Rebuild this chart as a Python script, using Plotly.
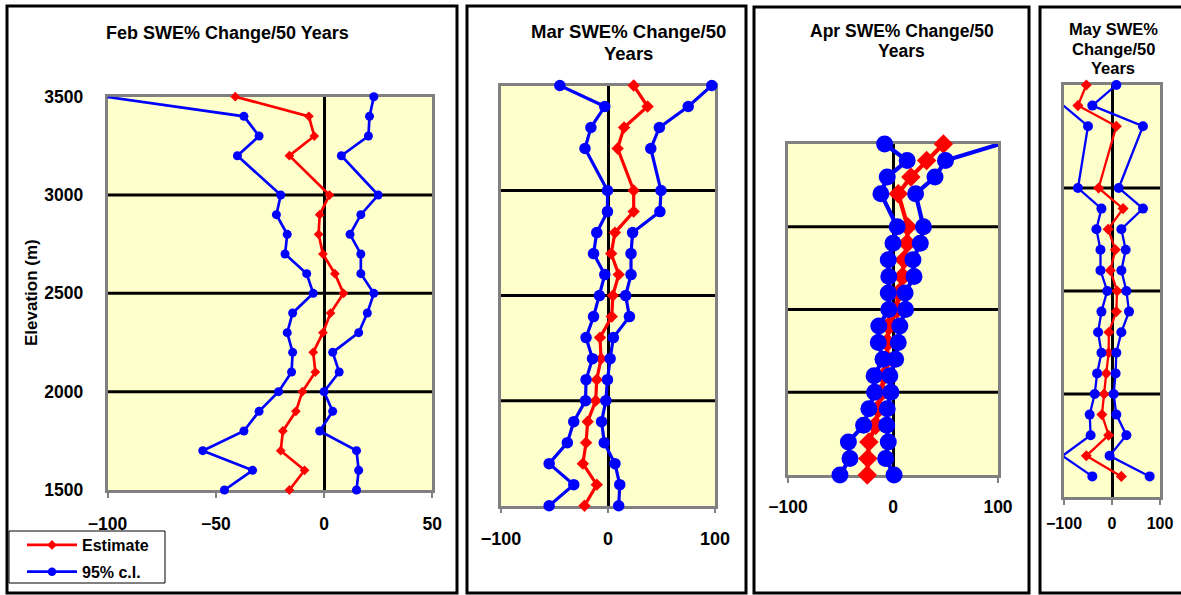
import plotly.graph_objects as go

W, H = 1181, 595

# ---------------- data ----------------
elev = [3500, 3400, 3300, 3200, 3000, 2900, 2800, 2700, 2600, 2500,
        2400, 2300, 2200, 2100, 2000, 1900, 1800, 1700, 1600, 1500]
elev_may = [3500, 3400, 3300, 3000, 2900, 2800, 2700, 2600, 2500,
            2400, 2300, 2200, 2100, 2000, 1900, 1800, 1700, 1600]

feb_est = [-41, -7, -4.5, -16, 2.5, -2, -2.5, -0.5, 5, 9,
           3, -0.5, -5, -4, -10, -13, -19, -20, -9, -16]
feb_lo = [-101, -37, -30, -40, -20, -22, -17, -18, -8, -5,
          -14.5, -17, -14.5, -15, -21, -30, -37, -56, -33, -46]
feb_hi = [23, 21, 20.5, 8, 25, 17, 12, 17, 17, 23,
          20, 16, 4, 7, 0, 4, -2, 15, 16, 15]

mar_est = [24, 37, 15, 9, 24, 24, 6.5, 3, 10, 4.5,
           3.5, -7.5, -6.5, -10.5, -11.5, -19, -20.5, -23.5, -10.5, -22]
mar_lo = [-45, -3, -16, -21.5, -0.5, -0.5, -10.5, -13.5, -3, -8,
          -13.5, -20.5, -14.5, -20.5, -21, -32, -38, -55, -32, -55]
mar_hi = [97, 75, 48, 40, 49.5, 48.5, 23, 21.5, 21.5, 16.5,
          20, 5, 2, -0.5, -2, -6, -3.5, 6.5, 11, 10]

apr_est = [48, 32, 17, 5, 14, 13.5, 10.5, 9, 5.5, 3.5,
           -4, -5.5, -5.5, -8.5, -11, -14, -16.5, -23, -24, -24.5]
apr_lo = [-8, 13.5, -5.5, -11.5, 4, 0, -4.5, -4, -4.5, -4,
          -13.5, -14, -9.5, -18, -17.5, -23, -28, -42.5, -41, -50.5]
apr_hi = [102, 50, 40, 21.5, 29, 26, 19, 20, 11.5, 12,
          6.5, 5, 2.5, -3, -2, -5.5, -6, -4.5, -7, 1]

may_est = [-53.5, -71, 9, -28, 23, -8, 7, -3.5, 10.5,
           9, -6.5, -7, -12, -16.5, -21, -7, -53.5, 19.5]
may_lo = [None, -101, -50, -71, -22, -32.5, -24, -24, -10,
          -22, -29, -22, -31, -36, -46.5, -44.5, -103, -41]
may_hi = [9, -41, 64.5, 14, 64.5, 19.5, 28.5, 19.5, 30,
          35.5, 19.5, 9, 7.5, 3.5, 9, 30, -5, 78.5]

titles = [["Feb SWE% Change/50 Years"],
          ["Mar SWE% Change/50", "Years"],
          ["Apr SWE% Change/50", "Years"],
          ["May SWE%", "Change/50", "Years"]]
y_ticks = [1500, 2000, 2500, 3000, 3500]
grid_vals = [2000, 2500, 3000]
x_ticks_feb = [-100, -50, 0, 50]
x_ticks_other = [-100, 0, 100]

# ---------------- styling / layout ----------------
FONT = "Liberation Sans, Arial, sans-serif"
RED, BLUE = "#FF0000", "#0000FF"
GRAY = "#808080"
BG = "#FFFFCC"

panels = [
    dict(elev=elev, est=feb_est, lo=feb_lo, hi=feb_hi, xr=[-100, 50], xt=x_ticks_feb,
         box=(107.5, 96.7, 432.3, 490), mc=9, md=7.5, lw=2.7, tf=17.5, stand=11,
         title_x=227.5, title_y=[33], title_fs=18),
    dict(elev=elev, est=mar_est, lo=mar_lo, hi=mar_hi, xr=[-100, 100], xt=x_ticks_other,
         box=(501, 85.5, 715, 505.7), mc=11.5, md=9.5, lw=3.2, tf=18, stand=10,
         title_x=628, title_y=[31.7, 53], title_fs=18.5),
    dict(elev=elev, est=apr_est, lo=apr_lo, hi=apr_hi, xr=[-100, 100], xt=x_ticks_other,
         box=(788, 144, 998, 475), mc=17, md=15, lw=4.2, tf=17.5, stand=9,
         title_x=902, title_y=[31.2, 51], title_fs=17.5),
    dict(elev=elev_may, est=may_est, lo=may_lo, hi=may_hi, xr=[-100, 100], xt=x_ticks_other,
         box=(1064, 85, 1160, 497), mc=10, md=8.5, lw=2.3, tf=16, stand=5,
         title_x=1113, title_y=[29.2, 49.2, 68], title_fs=16.5),
]

frames = [(7, 6, 457, 593), (467, 6, 746, 593), (754, 7, 1029, 593), (1040, 7, 1195, 593)]


def sizes(vals, s, rng):
    return [s if (v is not None and rng[0] <= v <= rng[1]) else 0 for v in vals]


fig = go.Figure()
layout = dict(width=W, height=H,
              margin=dict(l=0, r=0, t=0, b=0, pad=0, autoexpand=False),
              paper_bgcolor="white", plot_bgcolor=BG,
              font=dict(family=FONT, color="black"),
              showlegend=True)
shapes = []
annotations = []

for i, p in enumerate(panels, start=1):
    xa = "x" if i == 1 else f"x{i}"
    ya = "y" if i == 1 else f"y{i}"
    x0, y0, x1, y1 = p["box"]
    series = [("est", RED, "diamond", p["md"], "Estimate"),
              ("lo", BLUE, "circle", p["mc"], "95% c.l."),
              ("hi", BLUE, "circle", p["mc"], "95% c.l.")]
    for key, col, sym, ms, name in series:
        fig.add_trace(go.Scatter(
            x=p[key], y=p["elev"], xaxis=xa, yaxis=ya, mode="lines+markers",
            name=name, legendgroup=name,
            showlegend=(i == 1 and key in ("est", "lo")),
            line=dict(color=col, width=p["lw"]),
            marker=dict(symbol=sym, color=col, opacity=1,
                        size=sizes(p[key], ms, p["xr"]),
                        line=dict(width=0, color=col)),
            cliponaxis=False, hoverinfo="skip"))
    axfont = dict(family=FONT, size=p["tf"], color="black", weight="bold")
    layout["xaxis" if i == 1 else f"xaxis{i}"] = dict(
        domain=[x0 / W, x1 / W], anchor=ya, range=p["xr"], tickvals=p["xt"],
        ticks="outside", ticklen=5, tickwidth=1.5, tickcolor=GRAY,
        showline=True, mirror=True, linecolor=GRAY, linewidth=2.5,
        showgrid=False, zeroline=True, zerolinecolor="black", zerolinewidth=2.5,
        tickfont=axfont, ticklabelstandoff=p["stand"], layer="below traces",
        automargin=False, fixedrange=True)
    layout["yaxis" if i == 1 else f"yaxis{i}"] = dict(
        domain=[1 - y1 / H, 1 - y0 / H], anchor=xa, range=[1500, 3500],
        tickvals=y_ticks, showticklabels=(i == 1), ticks="",
        showline=True, mirror=True, linecolor=GRAY, linewidth=2.5,
        showgrid=False, zeroline=False, tickfont=axfont,
        ticklabelstandoff=18, layer="below traces", automargin=False,
        fixedrange=True)
    for g in grid_vals:
        shapes.append(dict(type="line", xref=f"{xa} domain", yref=ya,
                           x0=0, x1=1, y0=g, y1=g, layer="below",
                           line=dict(color="black", width=3)))
    for line_txt, ty in zip(titles[i - 1], p["title_y"]):
        annotations.append(dict(text=line_txt, xref="paper", yref="paper",
                                x=p["title_x"] / W, y=1 - ty / H,
                                xanchor="center", yanchor="middle", showarrow=False,
                                font=dict(family=FONT, size=p["title_fs"],
                                          color="black", weight="bold")))

annotations.append(dict(text="Elevation (m)", xref="paper", yref="paper",
                        x=31 / W, y=1 - 293 / H, textangle=-90,
                        xanchor="center", yanchor="middle", showarrow=False,
                        font=dict(family=FONT, size=17, color="black", weight="bold")))

for fx0, fy0, fx1, fy1 in frames:
    shapes.append(dict(type="rect", xref="paper", yref="paper",
                       x0=fx0 / W, x1=fx1 / W, y0=1 - fy1 / H, y1=1 - fy0 / H,
                       line=dict(color="black", width=3), fillcolor="rgba(0,0,0,0)"))
# legend box
shapes.append(dict(type="rect", xref="paper", yref="paper",
                   x0=9 / W, x1=165 / W, y0=1 - 583 / H, y1=1 - 531 / H,
                   line=dict(color="black", width=1), fillcolor="white"))

layout["shapes"] = shapes
layout["annotations"] = annotations
layout["legend"] = dict(x=22 / W, y=1 - 528 / H, xanchor="left", yanchor="top",
                        bgcolor="rgba(0,0,0,0)", borderwidth=0,
                        font=dict(family=FONT, size=16, color="black", weight="bold"),
                        itemwidth=50, traceorder="grouped", tracegroupgap=3)
fig.update_layout(**layout)
fig.write_html("out.html", config={"displayModeBar": False},
               post_script="document.body.style.margin='0px';"
                           "document.body.style.overflow='hidden';")
